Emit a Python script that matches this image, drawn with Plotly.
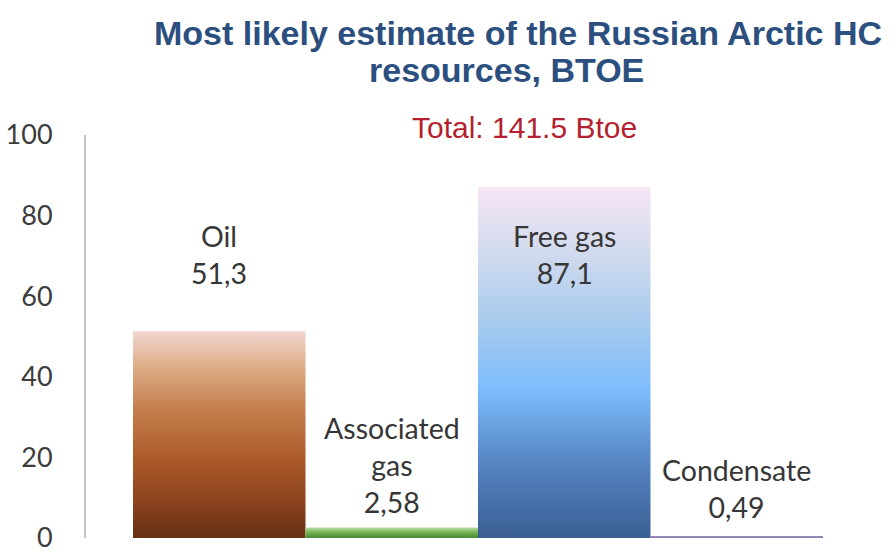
import plotly.graph_objects as go

# Resource categories and most likely estimates, billion tonnes of oil equivalent
categories = ["Oil", "Associated<br>gas", "Free gas", "Condensate"]
values = [51.3, 2.58, 87.1, 0.49]
y_ticks = [0, 20, 40, 60, 80, 100]

# Label heights (in axis units) for the category captions
label_y = [70.3, 18.1, 70.3, 12.3]

# Vertical gradients, bottom (0) to top (1)
gradients = [
    [[0.0, "#673014"], [0.18, "#8c431e"], [0.38, "#ac5a2a"], [0.62, "#c47d4c"],
     [0.82, "#dcab84"], [1.0, "#f1d6cf"]],
    [[0.0, "#4a8a30"], [0.5, "#6fae4e"], [1.0, "#b9dca3"]],
    [[0.0, "#3a5e93"], [0.22, "#5686c4"], [0.42, "#7cbcfc"], [0.62, "#a9cbee"],
     [0.82, "#d3dbee"], [1.0, "#f6e6f6"]],
    [[0.0, "#8a7cae"], [1.0, "#9a8fbc"]],
]

TOTAL = sum(values)

# Plot-area pixel geometry
L, R, T, B = 86, 823, 135, 538
W, H = 896, 552
BAR_LEFT = 133


def paper(x, y):
    return (x - L) / (R - L), (B - y) / (B - T)


def fmt(v):
    return f"{v:g}".replace(".", ",")


fig = go.Figure()

for i, (val, cs) in enumerate(zip(values, gradients)):
    x0, x1 = i - 0.5, i + 0.5
    fig.add_trace(go.Scatter(
        x=[x0, x1, x1, x0, x0],
        y=[0, 0, val, val, 0],
        mode="lines",
        fill="toself",
        fillgradient=dict(type="vertical", colorscale=cs),
        line=dict(width=0),
        hoverinfo="skip",
        showlegend=False,
    ))

label_font = dict(family="Lato, Carlito, sans-serif", size=28.5, color="#363636")
for i, (cat, val, ly) in enumerate(zip(categories, values, label_y)):
    fig.add_annotation(
        x=i, y=ly, xref="x", yref="y",
        text=f"{cat}<br>{fmt(val)}",
        showarrow=False, align="center",
        xanchor="center", yanchor="middle",
        font=label_font,
    )

# Title lines
title_font = dict(family="Liberation Sans, Arial, sans-serif", size=34, color="#2b4f7e")
tx, ty = paper(518, 33)
fig.add_annotation(x=tx, y=ty, xref="paper", yref="paper",
                   text="<b>Most likely estimate of the Russian Arctic HC</b>",
                   showarrow=False, xanchor="center", yanchor="middle", font=title_font)
tx, ty = paper(507, 70)
fig.add_annotation(x=tx, y=ty, xref="paper", yref="paper",
                   text="<b>resources, BTOE</b>",
                   showarrow=False, xanchor="center", yanchor="middle", font=title_font)

# Total line
tx, ty = paper(524, 128)
fig.add_annotation(x=tx, y=ty, xref="paper", yref="paper",
                   text=f"Total: {TOTAL:.1f} Btoe",
                   showarrow=False, xanchor="center", yanchor="middle",
                   font=dict(family="Liberation Sans, Arial, sans-serif", size=30, color="#b51f2f"))

cat_px = (R - BAR_LEFT) / len(values)
fig.update_layout(
    width=W, height=H,
    margin=dict(l=L, r=W - R, t=T, b=H - B, autoexpand=False),
    paper_bgcolor="white", plot_bgcolor="white",
    xaxis=dict(range=[-0.5 - (BAR_LEFT - L) / cat_px, len(values) - 0.5],
               visible=False, fixedrange=True, automargin=False),
    yaxis=dict(range=[0, 100], tickvals=y_ticks, showgrid=False, zeroline=False,
               showline=True, linecolor="#c4c4c4", linewidth=2, ticks="",
               ticklabelstandoff=26, ticklabeloverflow="allow", automargin=False,
               tickfont=dict(family="Lato, Carlito, sans-serif", size=27, color="#3c3c3c"),
               fixedrange=True),
)

fig.write_html("out.html")
